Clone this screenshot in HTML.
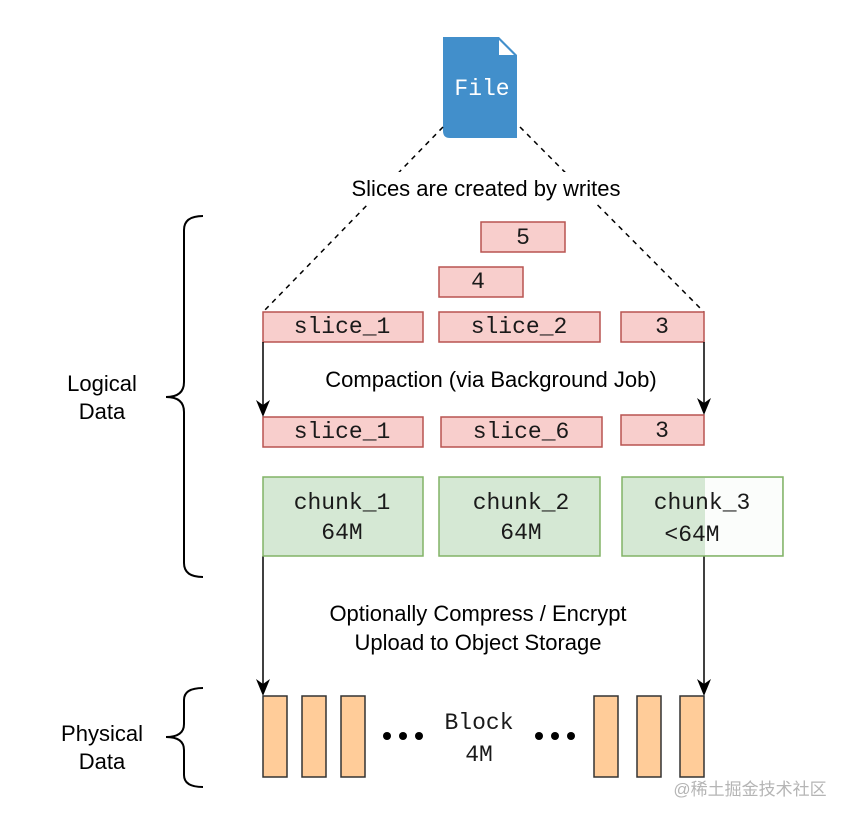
<!DOCTYPE html>
<html><head><meta charset="utf-8"><style>
html,body{margin:0;padding:0;background:#fff;}
svg{display:block;}
.m{font-family:"Liberation Mono",monospace;font-size:23px;fill:#1a1a1a;}
.s{font-family:"Liberation Sans",sans-serif;font-size:22px;fill:#000;}
</style></head><body>
<svg width="852" height="820" viewBox="0 0 852 820" xmlns="http://www.w3.org/2000/svg">
<!-- file -->
<path d="M443,37 H499 L517,55 V138 H450 Q443,138 443,131 Z" fill="#428fcb"/>
<path d="M499,40 L514,55 H499 Z" fill="#fff"/>
<text x="482" y="95" text-anchor="middle" class="m" style="fill:#fff">File</text>
<!-- dashed -->
<line x1="443" y1="127" x2="263" y2="312" stroke="#000" stroke-width="1.5" stroke-dasharray="5,5"/>
<line x1="520" y1="127" x2="704" y2="312" stroke="#000" stroke-width="1.5" stroke-dasharray="5,5"/>
<rect x="345" y="172" width="282" height="32" fill="#fff"/>
<text x="486" y="196" text-anchor="middle" class="s">Slices are created by writes</text>
<!-- slices -->
<g fill="#f8cecc" stroke="#b85450" stroke-width="1.5">
<rect x="481" y="222" width="84" height="30"/>
<rect x="439" y="267" width="84" height="30"/>
<rect x="263" y="312" width="160" height="30"/>
<rect x="439" y="312" width="161" height="30"/>
<rect x="621" y="312" width="83" height="30"/>
<rect x="263" y="417" width="160" height="30"/>
<rect x="441" y="417" width="161" height="30"/>
<rect x="621" y="415" width="83" height="30"/>
</g>
<g class="m" text-anchor="middle">
<text x="523" y="244">5</text>
<text x="478" y="288">4</text>
<text x="342" y="333">slice_1</text>
<text x="519" y="333">slice_2</text>
<text x="662" y="333">3</text>
<text x="342" y="438">slice_1</text>
<text x="521" y="438">slice_6</text>
<text x="662" y="437">3</text>
</g>
<!-- arrows -->
<g stroke="#000" stroke-width="1.5">
<line x1="263" y1="342" x2="263" y2="405"/>
<line x1="704" y1="342" x2="704" y2="403"/>
<line x1="263" y1="556" x2="263" y2="685"/>
<line x1="704" y1="556" x2="704" y2="685"/>
</g>
<g fill="#000">
<path d="M256,400 L263,417 L270,400 L263,405 Z"/>
<path d="M697,398 L704,415 L711,398 L704,403 Z"/>
<path d="M256,679 L263,696 L270,679 L263,684 Z"/>
<path d="M697,679 L704,696 L711,679 L704,684 Z"/>
</g>
<text x="491" y="387" text-anchor="middle" class="s">Compaction (via Background Job)</text>
<!-- chunks -->
<g fill="#d5e8d4" stroke="#82b366" stroke-width="1.5">
<rect x="263" y="477" width="160" height="79"/>
<rect x="439" y="477" width="161" height="79"/>
<rect x="622" y="477" width="161" height="79"/>
</g>
<rect x="705" y="478" width="77" height="77" fill="#fbfdfb"/>
<g class="m" text-anchor="middle">
<text x="342" y="509">chunk_1</text>
<text x="342" y="539">64M</text>
<text x="521" y="509">chunk_2</text>
<text x="521" y="539">64M</text>
<text x="702" y="509">chunk_3</text>
<text x="692" y="541">&lt;64M</text>
</g>
<text x="478" y="621" text-anchor="middle" class="s">Optionally Compress / Encrypt</text>
<text x="478" y="650" text-anchor="middle" class="s">Upload to Object Storage</text>
<!-- blocks -->
<g fill="#ffcc99" stroke="#333" stroke-width="1.5">
<rect x="263" y="696" width="24" height="81"/>
<rect x="302" y="696" width="24" height="81"/>
<rect x="341" y="696" width="24" height="81"/>
<rect x="594" y="696" width="24" height="81"/>
<rect x="637" y="696" width="24" height="81"/>
<rect x="680" y="696" width="24" height="81"/>
</g>
<g fill="#000">
<circle cx="387" cy="736" r="4"/><circle cx="403" cy="736" r="4"/><circle cx="419" cy="736" r="4"/>
<circle cx="539" cy="736" r="4"/><circle cx="555" cy="736" r="4"/><circle cx="571" cy="736" r="4"/>
</g>
<text x="479" y="729" text-anchor="middle" class="m">Block</text>
<text x="479" y="761" text-anchor="middle" class="m">4M</text>
<!-- braces -->
<g fill="none" stroke="#000" stroke-width="2">
<path d="M203,216 Q184,216 184,230 V382 Q184,397 166,397 Q184,397 184,412 V563 Q184,577 203,577"/>
<path d="M203,688 Q184,688 184,700 V724 Q184,737 166,737 Q184,737 184,750 V775 Q184,787 203,787"/>
</g>
<g class="s" text-anchor="middle">
<text x="102" y="391">Logical</text>
<text x="102" y="419">Data</text>
<text x="102" y="741">Physical</text>
<text x="102" y="769">Data</text>
</g>
<text x="750" y="795" text-anchor="middle" style="font-family:'Liberation Sans','Noto Sans CJK SC',sans-serif;font-size:17px;fill:#b5b5b5">@稀土掘金技术社区</text>
</svg>
</body></html>
